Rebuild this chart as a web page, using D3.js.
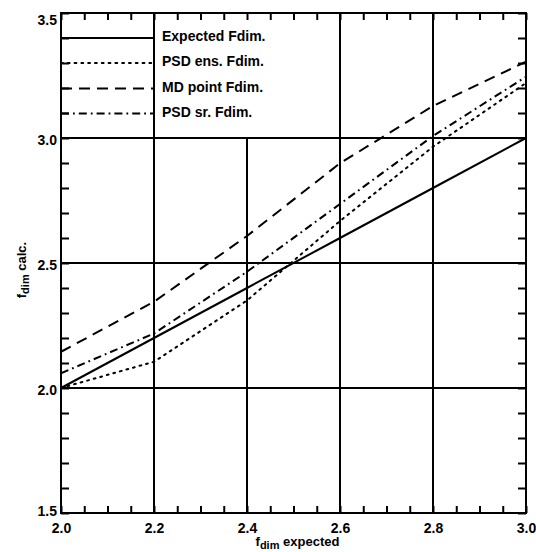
<!DOCTYPE html>
<html>
<head>
<meta charset="utf-8">
<script src="https://cdn.jsdelivr.net/npm/d3@7"></script>
<style>
  html, body { margin: 0; padding: 0; background: #fff; }
  svg { display: block; }
  text { font-family: "Liberation Sans", Arial, sans-serif; fill: #000; }
</style>
</head>
<body>
<svg id="chart" width="536" height="552"></svg>
<script>
// ---- data ----
const fdimExpected = [2.0, 2.2, 2.4, 2.6, 2.8, 3.0];
const expectedFdim = [2.0, 2.2, 2.4, 2.6, 2.8, 3.0];
const psdEnsFdim   = [2.0, 2.105, 2.35, 2.668, 2.965, 3.22];
const mdPointFdim  = [2.145, 2.345, 2.608, 2.899, 3.128, 3.305];
const psdSrFdim    = [2.059, 2.218, 2.465, 2.736, 3.008, 3.245];
const seriesNames  = ["Expected Fdim.", "PSD ens. Fdim.", "MD point Fdim.", "PSD sr. Fdim."];
const xMajorTicks  = [2.0, 2.2, 2.4, 2.6, 2.8, 3.0];
const yMajorTicks  = [1.5, 2.0, 2.5, 3.0, 3.5];
const xGrid        = [2.2, 2.4, 2.6, 2.8];
const yGrid        = [2.0, 2.5, 3.0];

const svg = d3.select("#chart");
const L = 61, R = 526, T = 13, B = 513;
const x = d3.scaleLinear().domain([2, 3]).range([L, R]);
const y = d3.scaleLinear().domain([1.5, 3.5]).range([B, T]);

const dashes = ["none", "1.8,5", "11,7", "8,4,1.8,4"];
const caps = ["butt", "round", "butt", "butt"];
const series = [expectedFdim, psdEnsFdim, mdPointFdim, psdSrFdim];

// grid
const g = svg.append("g");
g.selectAll("line.vg").data(xGrid).join("line")
  .attr("x1", d => x(d)).attr("x2", d => x(d))
  .attr("y1", y(3.5)).attr("y2", y(1.5))
  .attr("stroke", "#000").attr("stroke-width", 2);
g.selectAll("line.hg").data(yGrid).join("line")
  .attr("x1", x(2)).attr("x2", x(3))
  .attr("y1", d => y(d)).attr("y2", d => y(d))
  .attr("stroke", "#000").attr("stroke-width", 2);

// legend box (white area masking the grid)
svg.append("rect")
  .attr("x", x(2.2) + 1).attr("y", y(3.5))
  .attr("width", x(2.52) - x(2.2)).attr("height", y(3.0) - y(3.5) - 1)
  .attr("fill", "#fff");

// data lines
const line = d3.line().x((d, i) => x(fdimExpected[i])).y(d => y(d));
svg.selectAll("path.series").data(series).join("path")
  .attr("class", "series")
  .attr("d", d => line(d))
  .attr("fill", "none").attr("stroke", "#000").attr("stroke-width", 2)
  .attr("stroke-dasharray", (d, i) => dashes[i])
  .attr("stroke-linecap", (d, i) => caps[i]);

// legend
const legY = [3.40, 3.30, 3.198, 3.098];
const leg = svg.append("g");
leg.selectAll("line").data(seriesNames).join("line")
  .attr("x1", x(2)).attr("x2", x(2.2))
  .attr("y1", (d, i) => y(legY[i])).attr("y2", (d, i) => y(legY[i]))
  .attr("stroke", "#000").attr("stroke-width", 2)
  .attr("stroke-dasharray", (d, i) => dashes[i])
  .attr("stroke-linecap", (d, i) => caps[i]);
leg.selectAll("text").data(seriesNames).join("text")
  .attr("x", x(2.2) + 8).attr("y", (d, i) => y(legY[i]) + 3)
  .attr("font-size", 14).attr("font-weight", "bold")
  .text(d => d);

// ticks / axes
const xMinor = d3.range(0, 21).map(i => +(2 + i * 0.05).toFixed(2));
const yMinor = d3.range(0, 21).map(i => +(1.5 + i * 0.1).toFixed(1));
const isMajorX = d => xMajorTicks.some(v => Math.abs(v - d) < 1e-6);
const isMajorY = d => yMajorTicks.some(v => Math.abs(v - d) < 1e-6);

function styleAxis(sel) {
  sel.select(".domain").remove();
  sel.selectAll(".tick line").attr("stroke", "#000").attr("stroke-width", 2);
  sel.selectAll(".tick text").attr("font-size", 14).attr("font-weight", "bold")
    .attr("font-family", "'Liberation Sans', Arial, sans-serif").attr("fill", "#000");
}

svg.append("g").attr("transform", `translate(0,${B})`)
  .call(d3.axisBottom(x).tickValues(xMinor).tickSizeInner(-7).tickSizeOuter(0).tickPadding(10)
    .tickFormat(d => isMajorX(d) ? d3.format(".1f")(d) : ""))
  .call(styleAxis);
svg.append("g").attr("transform", `translate(0,${T})`)
  .call(d3.axisTop(x).tickValues(xMinor).tickSizeInner(-7).tickSizeOuter(0).tickFormat(""))
  .call(styleAxis);
const yAx = svg.append("g").attr("transform", `translate(${L},0)`)
  .call(d3.axisLeft(y).tickValues(yMinor).tickSizeInner(-8).tickSizeOuter(0).tickPadding(4)
    .tickFormat(d => isMajorY(d) ? d3.format(".1f")(d) : ""))
  .call(styleAxis);
yAx.selectAll(".tick text").attr("dy", d => d === 3.5 ? "0.8em" : (d === 1.5 ? "0.2em" : "0.45em"));
svg.append("g").attr("transform", `translate(${R},0)`)
  .call(d3.axisRight(y).tickValues(yMinor).tickSizeInner(-8).tickSizeOuter(0).tickFormat(""))
  .call(styleAxis);

// frame
svg.append("rect")
  .attr("x", x(2)).attr("y", y(3.5))
  .attr("width", x(3) - x(2)).attr("height", y(1.5) - y(3.5))
  .attr("fill", "none").attr("stroke", "#000").attr("stroke-width", 2);

// axis titles
const xt = svg.append("text")
  .attr("x", (L + R) / 2 + 4).attr("y", 546)
  .attr("text-anchor", "middle").attr("font-size", 13).attr("font-weight", "bold");
xt.append("tspan").text("f");
xt.append("tspan").attr("dy", 3).attr("font-size", 11).text("dim");
xt.append("tspan").attr("dy", -3).text(" expected");

const yt = svg.append("text")
  .attr("transform", `translate(26,${(T + B) / 2 + 7}) rotate(-90)`)
  .attr("text-anchor", "middle").attr("font-size", 13).attr("font-weight", "bold");
yt.append("tspan").text("f");
yt.append("tspan").attr("dy", 3).attr("font-size", 11).text("dim");
yt.append("tspan").attr("dy", -3).text(" calc.");
</script>
</body>
</html>
